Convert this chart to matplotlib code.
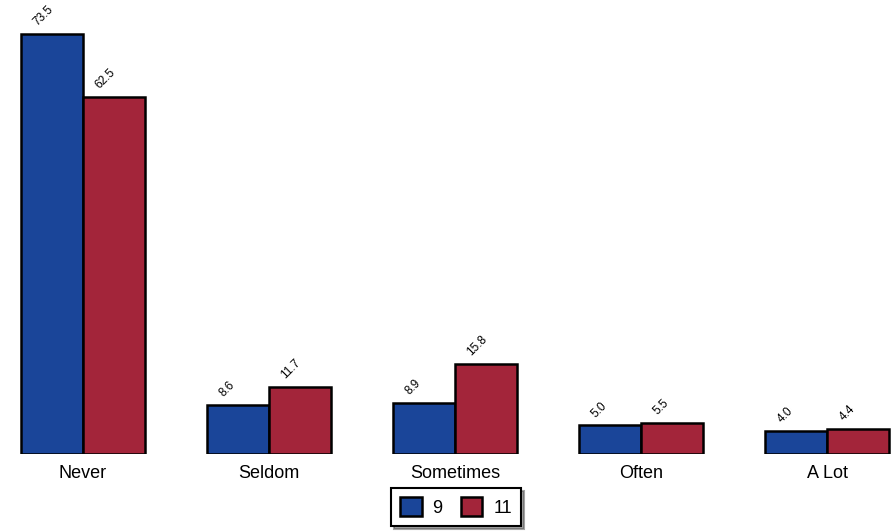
import numpy as np
import matplotlib
matplotlib.use('Agg')
from matplotlib import pyplot as plt

categories = ['Never', 'Seldom', 'Sometimes', 'Often', 'A Lot']
grade9 = [73.5, 8.6, 8.9, 5.0, 4.0]
grade11 = [62.5, 11.7, 15.8, 5.5, 4.4]
series_names = ['9', '11']

blue = '#1a4599'
red = '#a3253a'

plt.rcParams['font.family'] = ['Liberation Sans', 'DejaVu Sans']

fig = plt.figure(figsize=(8.94, 5.31), dpi=100)
ax = fig.add_axes([0, 0.145, 1, 0.855])

x = np.arange(len(categories))
w = 1 / 3
b1 = ax.bar(x - w / 2, grade9, w, color=blue, edgecolor='black', linewidth=1.8, label=series_names[0])
b2 = ax.bar(x + w / 2, grade11, w, color=red, edgecolor='black', linewidth=1.8, label=series_names[1])

for bars in (b1, b2):
    for rect in bars:
        h = rect.get_height()
        ax.annotate('%.1f' % h, (rect.get_x() + rect.get_width() / 2, h),
                    xytext=(-9, 4), textcoords='offset points',
                    ha='left', va='bottom', rotation=45, rotation_mode='anchor',
                    fontsize=8.5)

ax.set_xlim(-0.446, 4.36)
ax.set_ylim(0, 79.45)
ax.set_xticks(x)
ax.set_xticklabels(categories, fontsize=13)
ax.tick_params(axis='x', length=0, pad=8)
ax.set_yticks([])
for s in ax.spines.values():
    s.set_visible(False)

leg = fig.legend(loc='center', bbox_to_anchor=(0.51, 0.045), ncol=2, fontsize=13,
                 frameon=True, fancybox=False, shadow=True, edgecolor='black',
                 handlelength=1.2, handleheight=1.2, columnspacing=1.0, handletextpad=0.6,
                 borderpad=0.5)
leg.get_frame().set_linewidth(1.5)

fig.savefig('out.png', dpi=100)
